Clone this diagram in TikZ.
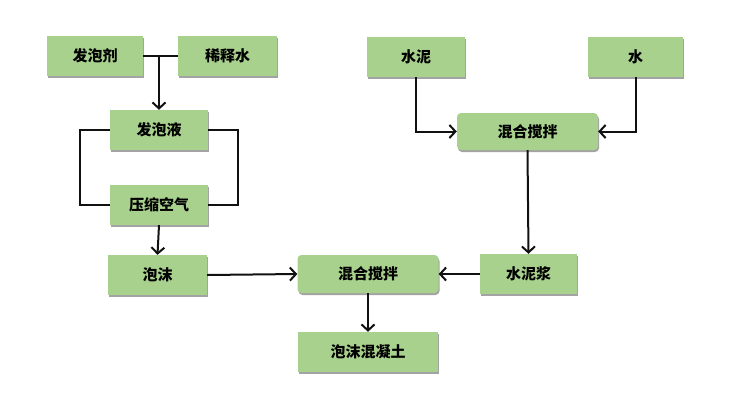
\documentclass[tikz,border=0pt]{standalone}
\usepackage{fontspec}
\newfontfamily\cjk{Noto Sans CJK SC}
\usetikzlibrary{arrows.meta,shadows,calc}
\definecolor{boxgreen}{HTML}{A9D18E}
\definecolor{boxshade}{HTML}{8C8C8C}
\definecolor{flowink}{HTML}{111111}

\tikzset{
  stepbox/.style={draw=none,fill=boxgreen,minimum width=98pt,minimum height=40pt,
    inner sep=0pt,font=\cjk\bfseries\fontsize{15}{17}\selectfont,
    drop shadow={shadow xshift=1pt,shadow yshift=-2pt,fill=boxshade,opacity=.8}},
  mixbox/.style={stepbox,rounded corners=4pt,minimum width=141pt,minimum height=38pt},
  flow/.style={flowink,line width=2pt},
  flowarrow/.style={flow,-{Straight Barb[length=6pt,width=13pt,line width=2pt]}}
}

\begin{document}
\begin{tikzpicture}[x=1pt,y=-1pt]
    \path[use as bounding box] (0,0) rectangle (750,413);

    % foam branch
    \node[stepbox,minimum width=96pt] (agent) at (95,56) {发泡剂};
    \node[stepbox,minimum width=99pt] (dilute) at (227.5,56) {稀释水};
    \node[stepbox] (liquid) at (159,130) {发泡液};
    \node[stepbox] (air) at (159,205) {压缩空气};
    \node[stepbox,minimum width=99pt] (foam) at (157.5,275) {泡沫};

    % slurry branch
    \node[stepbox] (cement) at (416,57) {水泥};
    \node[stepbox,minimum width=95pt] (water) at (635.5,57) {水};
    \node[mixbox,minimum height=37pt] (mixa) at (527.5,131.5) {混合搅拌};
    \node[stepbox,minimum width=97pt] (slurry) at (528.5,274) {水泥浆};

    % final mixing
    \node[mixbox] (mixb) at (368,274) {混合搅拌};
    \node[stepbox,minimum width=140pt] (product) at (368,352) {泡沫混凝土};

    \coordinate (join) at (agent.east -| liquid.north);
    \draw[flow] (agent.east) -- (dilute.west);
    \draw[flowarrow] (join) -- (liquid.north);
    \draw[flow] (liquid.west) -- ++(-30,0) |- (air.west);
    \draw[flow] (liquid.east) -- ++(30,0) |- (air.east);
    \draw[flowarrow] (air.south) -- (foam.north);
    \draw[flowarrow] (foam.east) -- (mixb.west);

    \draw[flowarrow] (cement.south) |- (mixa.west);
    \draw[flowarrow] (water.south) |- (mixa.east);
    \draw[flowarrow] (mixa.south) -- (slurry.north);
    \draw[flowarrow] (slurry.west) -- (mixb.east);
    \draw[flowarrow] (mixb.south) -- (product.north);
  \end{tikzpicture}
\end{document}
